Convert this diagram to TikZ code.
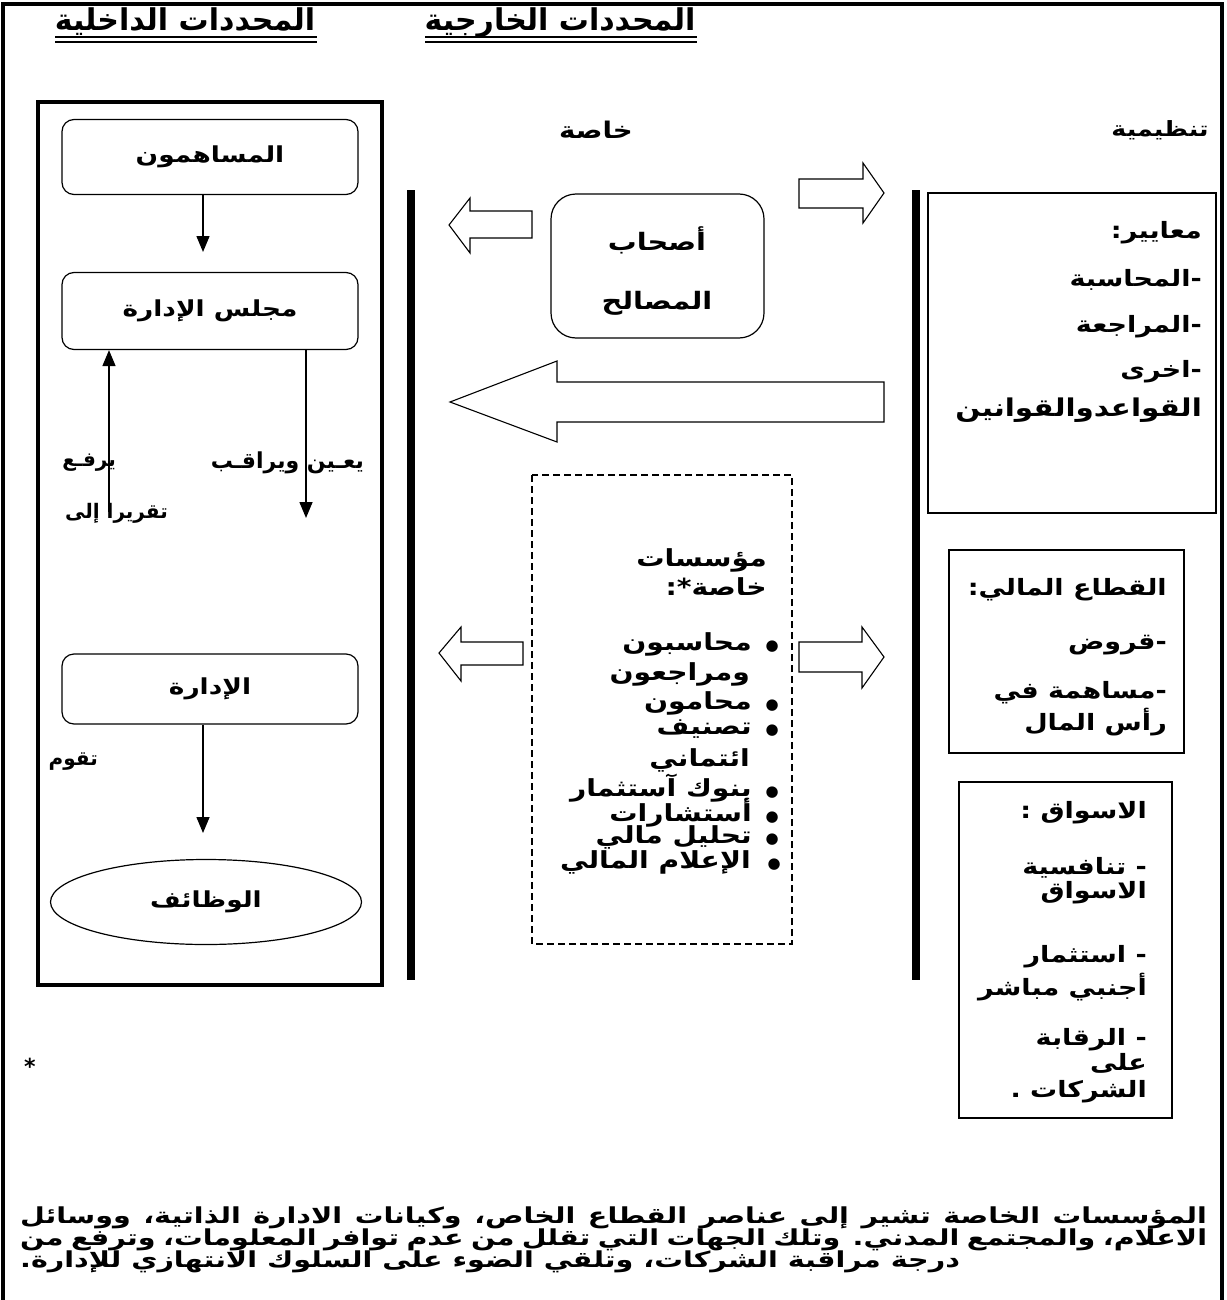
\documentclass[tikz,border=0pt]{standalone}
\usepackage{fontspec}
\TeXXeTstate=1
\newfontfamily\arabicfont[Script=Arabic]{DejaVu Sans}
\newfontfamily\arwide[Script=Arabic,FakeStretch=1.2]{DejaVu Sans}
\newfontfamily\arfoot[Script=Arabic,FakeStretch=1.3]{DejaVu Sans}
\newcommand{\ar}[1]{\beginR #1\endR}
\newcommand{\blt}{{\arabicfont\fontsize{15}{15}\selectfont ●}}
\usetikzlibrary{shapes.geometric,arrows.meta}
\tikzset{
  boxtxt/.style={font=\arwide\bfseries\fontsize{22}{26}\selectfont},
  rbox/.style={draw,line width=1.2pt,rounded corners=12pt,minimum width=296pt,minimum height=75pt,inner sep=0pt,boxtxt},
  lbl/.style={inner sep=0pt,font=\arabicfont\bfseries\fontsize{20}{24}\selectfont},
  hdr/.style={inner sep=0pt,font=\arwide\bfseries\fontsize{23}{26}\selectfont},
  rtxt/.style={inner sep=0pt,anchor=east,font=\arwide\bfseries\fontsize{22.5}{26}\selectfont},
  ltxt/.style={inner sep=0pt,anchor=east,font=\arwide\bfseries\fontsize{23.5}{26}\selectfont},
  ttl/.style={inner sep=0pt,anchor=base,font=\arabicfont\bfseries\fontsize{30}{34}\selectfont},
  foot/.style={inner sep=0pt,font=\arfoot\bfseries\fontsize{22}{24}\selectfont},
  arr/.style={line width=1.5pt,-{Triangle[length=16pt,width=13pt]}},
  barr/.style={draw,line width=1.1pt,fill=white,line join=miter},
}
\begin{document}
\begin{tikzpicture}[x=1pt,y=-1pt]
\useasboundingbox (0,0) rectangle (1226,1300);
% outer frame (open at bottom)
\draw[line width=3.5pt] (3,1305) -- (3,4) -- (1222,4) -- (1222,1305);

% titles
\node[ttl] (t1) at (185,31) {\ar{المحددات الداخلية}};
\node[ttl] (t2) at (560,31) {\ar{المحددات الخارجية}};
\draw[line width=2.5pt] (55,37) -- (317,37);
\draw[line width=1.2pt] (55,42) -- (317,42);
\draw[line width=2.5pt] (425,37) -- (697,37);
\draw[line width=1.2pt] (425,42) -- (697,42);

\node[hdr] (khassa) at (596,130) {\ar{خاصة}};
\node[hdr,font=\arwide\bfseries\fontsize{21}{24}\selectfont] (tanz) at (1160,130) {\ar{تنظيمية}};

% internal box
\draw[line width=4pt] (38,102) rectangle (382,985);
\node[rbox] (b1) at (210,157) {\ar{المساهمون}};
\node[rbox,minimum height=77pt] (b2) at (210,311) {\ar{مجلس الإدارة}};
\node[rbox,minimum height=70pt] (b3) at (210,689) {\ar{الإدارة}};
\node[draw,ellipse,line width=1.2pt,minimum width=311pt,minimum height=85pt,inner sep=0pt,boxtxt] (e1) at (206,902) {\ar{الوظائف}};

\coordinate (c1) at (203,252);
\coordinate (c2) at (109,512);
\coordinate (c3) at (306,518);
\coordinate (c4) at (203,833);
\draw[arr] (b1.south -| c1) -- (c1);
\draw[arr] (c2) -- (b2.south -| c2);
\draw[arr] (b2.south -| c3) -- (c3);
\draw[arr] (b3.south -| c4) -- (c4);

\node[lbl,anchor=east,font=\arabicfont\bfseries\fontsize{22}{24}\selectfont] (l1) at (364,463) {\ar{يعـين ويراقـب}};
\node[lbl,anchor=east] (l2) at (116,463) {\ar{يرفـع}};
\node[lbl,anchor=east] (l3) at (168,513) {\ar{تقريرا إلى}};
\node[lbl,anchor=east] (l4) at (98,762) {\ar{تقوم}};

% bars
\fill (407,190) rectangle (415,980);
\fill (912,190) rectangle (920,980);

% block arrows
\draw[barr] (449,225) -- (470,198) -- (470,211) -- (532,211) -- (532,238) -- (470,238) -- (470,253) -- cycle;
\draw[barr] (884,193) -- (863,163) -- (863,179) -- (799,179) -- (799,208) -- (863,208) -- (863,223) -- cycle;
\draw[barr] (450,402) -- (557,361) -- (557,382) -- (884,382) -- (884,422) -- (557,422) -- (557,442) -- cycle;
\draw[barr] (439,653) -- (461,627) -- (461,642) -- (523,642) -- (523,665) -- (461,665) -- (461,681) -- cycle;
\draw[barr] (884,657) -- (862,627) -- (862,642) -- (799,642) -- (799,672) -- (862,672) -- (862,688) -- cycle;

% stakeholders
\node[draw,line width=1.2pt,rounded corners=25pt,minimum width=213pt,minimum height=144pt,inner sep=0pt] (sh) at (657.5,266) {};
\node[boxtxt,inner sep=0pt,font=\arwide\bfseries\fontsize{24}{28}\selectfont] (sh1) at (657,240) {\ar{أصحاب}};
\node[boxtxt,inner sep=0pt,font=\arwide\bfseries\fontsize{24}{28}\selectfont] (sh2) at (657,303) {\ar{المصالح}};

% dashed box
\draw[line width=1.2pt,dash pattern=on 7pt off 4pt] (532,475) rectangle (792,944);
\node[ltxt] (m1) at (767,560) {\ar{مؤسسات}};
\node[ltxt] (m2) at (767,587) {\ar{خاصة*:}};
\node[ltxt] (m3) at (779,644) {\ar{محاسبون}\hspace{14pt}\blt};
\node[ltxt] (m4) at (750,674) {\ar{ومراجعون}};
\node[ltxt] (m5) at (779,703) {\ar{محامون}\hspace{14pt}\blt};
\node[ltxt] (m6) at (779,729) {\ar{تصنيف}\hspace{14pt}\blt};
\node[ltxt] (m7) at (750,760) {\ar{ائتماني}};
\node[ltxt] (m8) at (779,788) {\ar{بنوك آستثمار}\hspace{14pt}\blt};
\node[ltxt] (m9) at (779,813) {\ar{أستشارات}\hspace{14pt}\blt};
\node[ltxt] (m10) at (779,837) {\ar{تحليل مالي}\hspace{14pt}\blt};
\node[ltxt] (m11) at (781,862) {\ar{الإعلام المالي}\hspace{17pt}\blt};

% right boxes
\draw[line width=1.2pt] (928,193) rectangle (1216,513);
\node[rtxt] (r1) at (1202,233) {\ar{معايير:}};
\node[rtxt] (r2) at (1202,280) {\ar{\mbox{-}المحاسبة}};
\node[rtxt] (r3) at (1202,327) {\ar{\mbox{-}المراجعة}};
\node[rtxt] (r4) at (1202,372) {\ar{\mbox{-}اخرى}};
\node[rtxt,font=\arwide\bfseries\fontsize{24.5}{26}\selectfont] (r5) at (1202,410) {\ar{القواعدوالقوانين}};

\draw[line width=1.2pt] (949,550) rectangle (1184,753);
\node[rtxt] (q1) at (1167,590) {\ar{القطاع المالي:}};
\node[rtxt] (q2) at (1167,645) {\ar{\mbox{-}قروض}};
\node[rtxt] (q3) at (1167,693) {\ar{\mbox{-}مساهمة في}};
\node[rtxt] (q4) at (1167,722) {\ar{رأس المال}};

\draw[line width=1.2pt] (959,782) rectangle (1172,1118);
\node[rtxt] (s1) at (1147,813) {\ar{الاسواق :}};
\node[rtxt] (s2) at (1147,868) {\ar{\mbox{-} تنافسية}};
\node[rtxt] (s3) at (1147,893) {\ar{الاسواق}};
\node[rtxt] (s4) at (1147,957) {\ar{\mbox{-} استثمار}};
\node[rtxt] (s5) at (1147,987) {\ar{أجنبي مباشر}};
\node[rtxt] (s6) at (1147,1040) {\ar{\mbox{-} الرقابة}};
\node[rtxt] (s7) at (1147,1063) {\ar{على}};
\node[rtxt] (s8) at (1147,1092) {\ar{الشركات .}};

% footnote
\node[inner sep=0pt,font=\arabicfont\bfseries\fontsize{22}{24}\selectfont] (star) at (30,1066) {*};
\node[foot,anchor=west] (f1) at (20,1218) {\makebox[1187pt][s]{\ar{المؤسسات الخاصة تشير إلى عناصر القطاع الخاص، وكيانات الادارة الذاتية، ووسائل}}};
\node[foot,anchor=west] (f2) at (20,1240) {\makebox[1187pt][s]{\ar{الاعلام، والمجتمع المدني. وتلك الجهات التي تقلل من عدم توافر المعلومات، وترفع من}}};
\node[foot,anchor=west] (f3) at (20,1262) {\ar{درجة مراقبة الشركات، وتلقي الضوء على السلوك الانتهازي للإدارة.}};
\end{tikzpicture}
\end{document}
